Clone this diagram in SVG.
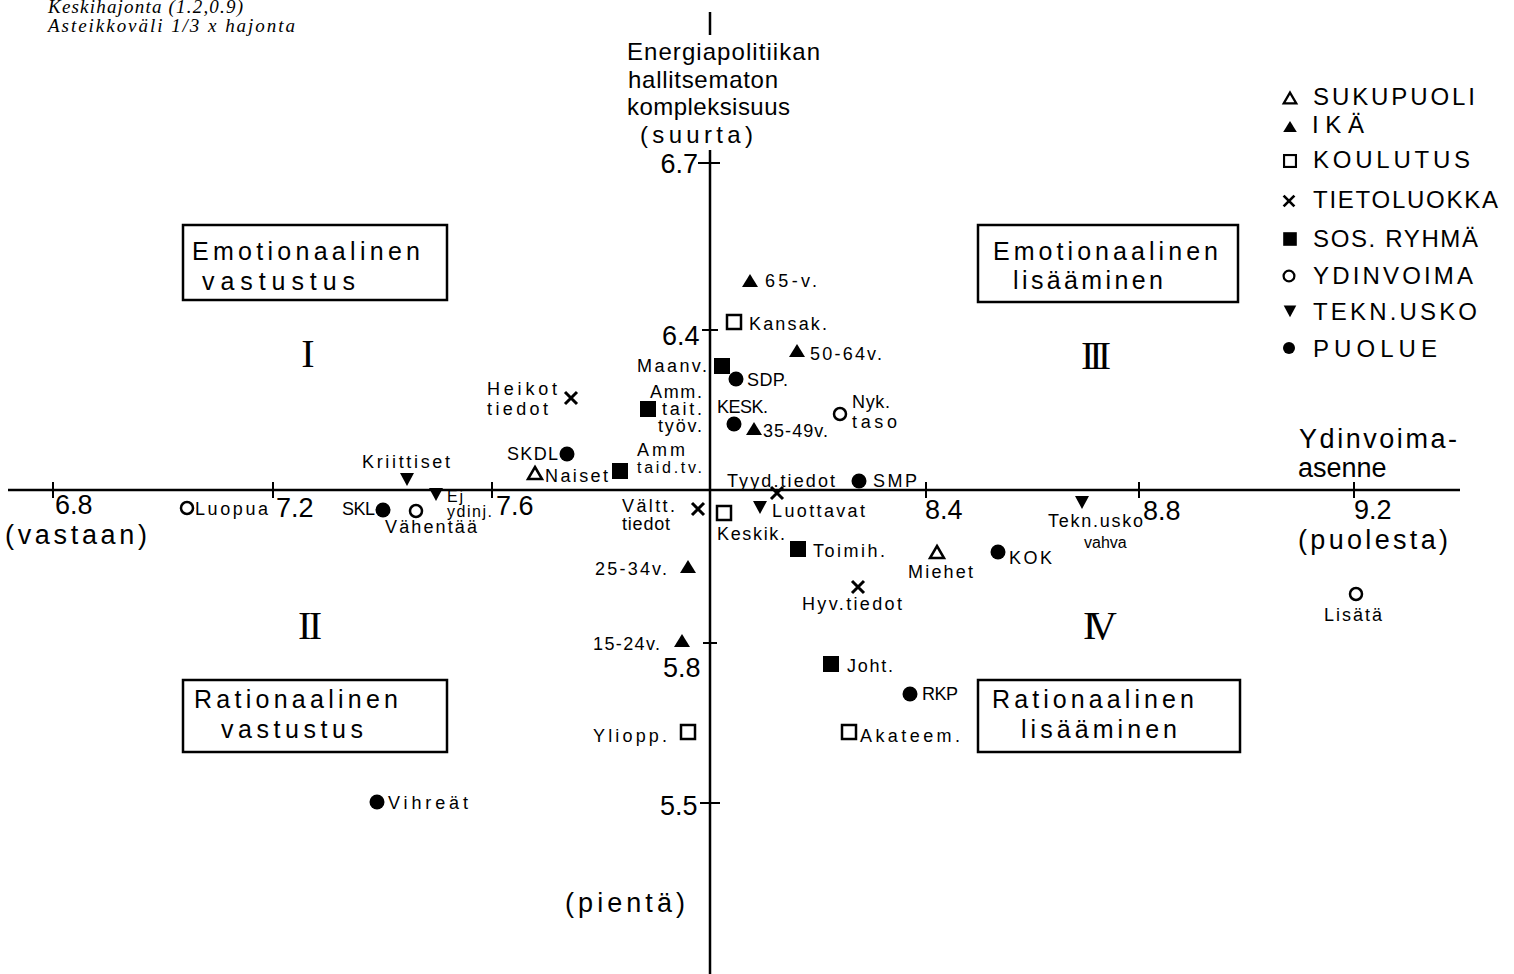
<svg xmlns="http://www.w3.org/2000/svg" width="1514" height="974" viewBox="0 0 1514 974">
<style>
text{font-family:"Liberation Sans",Arial,sans-serif;fill:#000}
.lb{font-size:18px}
.sm{font-size:16px}
.ax{font-size:27px}
.ti{font-size:24px}
.bx{font-size:25px}
.lg{font-size:24px}
.rn{font-family:"Liberation Serif","DejaVu Serif",serif;font-size:40px}
.it{font-family:"Liberation Serif","Times New Roman",serif;font-style:italic;font-size:19px}
.axis{stroke:#000;stroke-width:2.5;fill:none}
.tick{stroke:#000;stroke-width:2;fill:none}
.box{stroke:#000;stroke-width:2.5;fill:#fff}
</style>
<defs>
<polygon id="triO" points="0,-6 7,6 -7,6" fill="none" stroke="#000" stroke-width="2.5"/>
<polygon id="tri" points="0,-7 8,6 -8,6" fill="#000"/>
<rect id="sqO" x="-7" y="-7" width="14" height="14" fill="none" stroke="#000" stroke-width="2.5"/>
<rect id="sq" x="-8" y="-8" width="16" height="16" fill="#000"/>
<path id="crs" d="M-6,-6 L6,6 M6,-6 L-6,6" stroke="#000" stroke-width="3" fill="none"/>
<circle id="cO" r="6" fill="none" stroke="#000" stroke-width="2.5"/>
<polygon id="triD" points="-7,-6 7,-6 0,7" fill="#000"/>
<circle id="dot" r="7.5" fill="#000"/>
</defs>
<rect width="1514" height="974" fill="#fff"/>

<g id="notes">
<text class="it" x="48" y="13" textLength="195">Keskihajonta (1.2,0.9)</text>
<text class="it" x="48" y="32" textLength="247">Asteikkoväli 1/3 x hajonta</text>
</g>

<g id="connectors">
<line class="axis" x1="8" y1="490" x2="1460" y2="490"/>
<line class="axis" x1="710" y1="150" x2="710" y2="974"/>
<line class="axis" x1="710" y1="12" x2="710" y2="35"/>
<path class="tick" d="M53,482V498M273,482V498M492,482V498M926,482V498M1139,482V498M1354,482V498"/>
<path class="tick" d="M698,163H720M702,330H718M703,643H717M700,803H720"/>
</g>

<g id="axis-labels">
<text class="ti" x="627" y="60" textLength="193">Energiapolitiikan</text>
<text class="ti" x="628" y="88" textLength="150">hallitsematon</text>
<text class="ti" x="627" y="115" textLength="163">kompleksisuus</text>
<text class="ti" x="640" y="143" textLength="113">(suurta)</text>
<text class="ax" x="698" y="173" text-anchor="end">6.7</text>
<text class="ax" x="662" y="345">6.4</text>
<text class="ax" x="663" y="677">5.8</text>
<text class="ax" x="660" y="815">5.5</text>
<text class="ax" x="565" y="912" textLength="120">(pientä)</text>
<text class="ax" x="55" y="514" font-size="25">6.8</text>
<text class="ax" x="5" y="544" font-size="26" textLength="142">(vastaan)</text>
<text class="ax" x="276" y="517">7.2</text>
<text class="ax" x="496" y="515">7.6</text>
<text class="ax" x="925" y="519">8.4</text>
<text class="ax" x="1143" y="520">8.8</text>
<text class="ax" x="1354" y="519" font-size="26">9.2</text>
<text class="ax" x="1298" y="549" font-size="26" textLength="150">(puolesta)</text>
<text class="ax" x="1299" y="448" textLength="158">Ydinvoima-</text>
<text class="ax" x="1298" y="477" font-size="25">asenne</text>
</g>

<g id="quadrants">
<text class="rn" x="308" y="367" text-anchor="middle">I</text>
<text class="rn" x="310" y="639" text-anchor="middle" textLength="24">II</text>
<text class="rn" x="1096" y="369" text-anchor="middle" textLength="30">III</text>
<text class="rn" x="1100" y="639" text-anchor="middle" textLength="34">IV</text>
</g>

<g id="box-emo-vast">
<rect class="box" x="183" y="225" width="264" height="75"/>
<text class="bx" x="192" y="260" textLength="228">Emotionaalinen</text>
<text class="bx" x="202" y="290" textLength="153">vastustus</text>
</g>
<g id="box-emo-lis">
<rect class="box" x="978" y="225" width="260" height="77"/>
<text class="bx" x="993" y="260" textLength="225">Emotionaalinen</text>
<text class="bx" x="1013" y="289" textLength="150">lisääminen</text>
</g>
<g id="box-rat-vast">
<rect class="box" x="183" y="680" width="264" height="72"/>
<text class="bx" x="194" y="708" textLength="204">Rationaalinen</text>
<text class="bx" x="221" y="738" textLength="142">vastustus</text>
</g>
<g id="box-rat-lis">
<rect class="box" x="978" y="680" width="262" height="72"/>
<text class="bx" x="992" y="708" textLength="202">Rationaalinen</text>
<text class="bx" x="1021" y="738" textLength="156">lisääminen</text>
</g>

<g id="legend">
<use href="#triO" transform="translate(1290,98) scale(0.9)"/>
<text class="lg" x="1313" y="105" textLength="162">SUKUPUOLI</text>
<use href="#tri" transform="translate(1290,127) scale(0.85)"/>
<text class="lg" x="1312" y="133" textLength="52">IKÄ</text>
<use href="#sqO" transform="translate(1290,161) scale(0.85)"/>
<text class="lg" x="1313" y="168" textLength="157">KOULUTUS</text>
<use href="#crs" transform="translate(1289,201) scale(0.9)"/>
<text class="lg" x="1313" y="208" textLength="185">TIETOLUOKKA</text>
<use href="#sq" transform="translate(1290,239) scale(0.85)"/>
<text class="lg" x="1313" y="247" textLength="165">SOS. RYHMÄ</text>
<use href="#cO" transform="translate(1289,276) scale(0.9)"/>
<text class="lg" x="1313" y="284" textLength="160">YDINVOIMA</text>
<use href="#triD" transform="translate(1290,311) scale(0.9)"/>
<text class="lg" x="1313" y="320" textLength="164">TEKN.USKO</text>
<use href="#dot" transform="translate(1289,348) scale(0.8)"/>
<text class="lg" x="1313" y="357" textLength="124">PUOLUE</text>
</g>

<g id="n-65v"><use href="#tri" x="750" y="281"/><text class="lb" x="765" y="287" textLength="52">65-v.</text></g>
<g id="n-kansak"><use href="#sqO" x="734" y="322"/><text class="lb" x="749" y="330" textLength="78">Kansak.</text></g>
<g id="n-5064v"><use href="#tri" x="797" y="351"/><text class="lb" x="810" y="360" textLength="72">50-64v.</text></g>
<g id="n-maanv"><use href="#sq" x="722" y="366"/><text class="lb" x="707" y="372" text-anchor="end" textLength="70">Maanv.</text></g>
<g id="n-sdp"><use href="#dot" x="736" y="379"/><text class="lb" x="747" y="386" textLength="41">SDP.</text></g>
<g id="n-heikot"><use href="#crs" x="571" y="398"/><text class="lb" x="487" y="395" textLength="70">Heikot</text><text class="lb" x="487" y="415" textLength="61">tiedot</text></g>
<g id="n-ammtyov"><use href="#sq" x="648" y="409"/><text class="lb" x="702" y="398" text-anchor="end" textLength="52">Amm.</text><text class="lb" x="702" y="415" text-anchor="end" textLength="40">tait.</text><text class="lb" x="702" y="432" text-anchor="end" textLength="44">työv.</text></g>
<g id="n-kesk"><use href="#dot" x="734" y="424"/><text class="lb" x="717" y="413" textLength="51">KESK.</text></g>
<g id="n-3549v"><use href="#tri" x="754" y="429"/><text class="lb" x="763" y="437" textLength="65">35-49v.</text></g>
<g id="n-nyk"><use href="#cO" x="840" y="414"/><text class="lb" x="852" y="408" textLength="38">Nyk.</text><text class="lb" x="852" y="428" textLength="45">taso</text></g>
<g id="n-skdl"><use href="#dot" x="567" y="454"/><text class="lb" x="558" y="460" text-anchor="end" textLength="51">SKDL</text></g>
<g id="n-naiset"><use href="#triO" x="535" y="473"/><text class="lb" x="545" y="482" textLength="63">Naiset</text></g>
<g id="n-ammtv"><use href="#sq" x="620" y="471"/><text class="lb" x="637" y="456" textLength="48">Amm</text><text class="sm" x="637" y="473" textLength="65">taid.tv.</text></g>
<g id="n-tyyd"><use href="#crs" x="777" y="493"/><text class="lb" x="727" y="487" textLength="108">Tyyd.tiedot</text></g>
<g id="n-smp"><use href="#dot" x="859" y="481"/><text class="lb" x="873" y="487" textLength="44">SMP</text></g>
<g id="n-valtt"><use href="#crs" x="698" y="509"/><text class="lb" x="622" y="512" textLength="53">Vältt.</text><text class="lb" x="622" y="530" textLength="48">tiedot</text></g>
<g id="n-keskik"><use href="#sqO" x="724" y="513"/><text class="lb" x="717" y="540" textLength="68">Keskik.</text></g>
<g id="n-luottavat"><use href="#triD" x="760" y="507"/><text class="lb" x="772" y="517" textLength="93">Luottavat</text></g>
<g id="n-toimih"><use href="#sq" x="798" y="549"/><text class="lb" x="813" y="557" textLength="72">Toimih.</text></g>
<g id="n-miehet"><use href="#triO" x="937" y="552"/><text class="lb" x="908" y="578" textLength="65">Miehet</text></g>
<g id="n-2534v"><use href="#tri" x="688" y="567"/><text class="lb" x="595" y="575" textLength="72">25-34v.</text></g>
<g id="n-hyv"><use href="#crs" x="858" y="587"/><text class="lb" x="802" y="610" textLength="100">Hyv.tiedot</text></g>
<g id="n-1524v"><use href="#tri" x="682" y="641"/><text class="lb" x="593" y="650" textLength="67">15-24v.</text></g>
<g id="n-joht"><use href="#sq" x="831" y="664"/><text class="lb" x="847" y="672" textLength="46">Joht.</text></g>
<g id="n-rkp"><use href="#dot" x="910" y="694"/><text class="lb" x="922" y="700" textLength="36">RKP</text></g>
<g id="n-yliopp"><use href="#sqO" x="688" y="732"/><text class="lb" x="593" y="742" textLength="74">Yliopp.</text></g>
<g id="n-akateem"><use href="#sqO" x="849" y="732"/><text class="lb" x="860" y="742" textLength="100">Akateem.</text></g>
<g id="n-kriittiset"><use href="#triD" x="407" y="479"/><text class="lb" x="362" y="468" textLength="88">Kriittiset</text></g>
<g id="n-ejydinj"><use href="#triD" x="436" y="494"/><text class="sm" x="447" y="502" textLength="16">Ej</text><text class="sm" x="447" y="517" textLength="45">ydinj.</text></g>
<g id="n-skl"><use href="#dot" x="383" y="510"/><text class="lb" x="342" y="515" textLength="33">SKL</text></g>
<g id="n-vahentaa"><use href="#cO" x="416" y="511"/><text class="lb" x="385" y="533" textLength="92">Vähentää</text></g>
<g id="n-luopua"><use href="#cO" x="187" y="508"/><text class="lb" x="195" y="515" textLength="73">Luopua</text></g>
<g id="n-tekn"><use href="#triD" x="1082" y="502"/><text class="lb" x="1048" y="527" textLength="95">Tekn.usko</text><text class="sm" x="1084" y="548">vahva</text></g>
<g id="n-kok"><use href="#dot" x="998" y="552"/><text class="lb" x="1009" y="564" textLength="43">KOK</text></g>
<g id="n-lisata"><use href="#cO" x="1356" y="594"/><text class="lb" x="1353" y="621" text-anchor="middle" textLength="58">Lisätä</text></g>
<g id="n-vihreat"><use href="#dot" x="377" y="802"/><text class="lb" x="388" y="809" textLength="80">Vihreät</text></g>
</svg>
